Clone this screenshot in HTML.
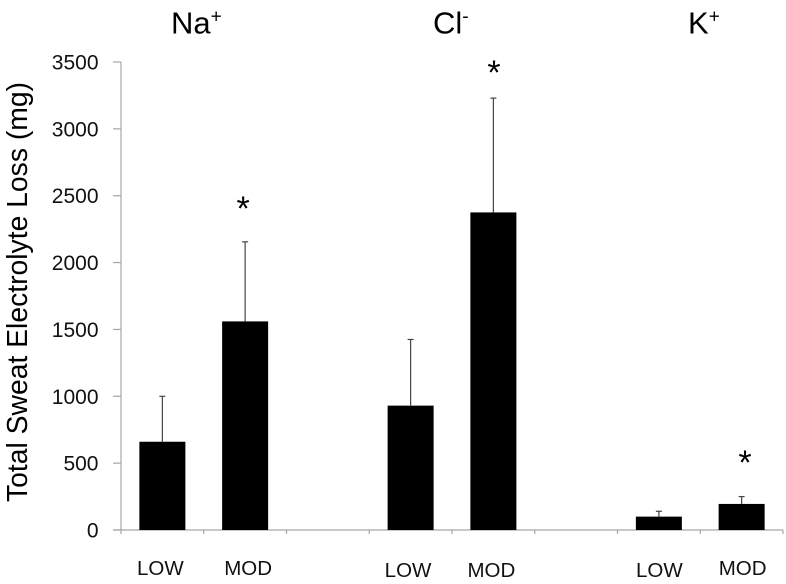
<!DOCTYPE html>
<html>
<head>
<meta charset="utf-8">
<style>
html,body{margin:0;padding:0;background:#fff;}
svg{display:block;font-family:"Liberation Sans",sans-serif;fill:#000;}
</style>
</head>
<body>
<svg id="chart" width="786" height="584" viewBox="0 0 786 584" xmlns="http://www.w3.org/2000/svg">
<text x="171" y="33.5" font-size="31">Na<tspan font-size="19" dy="-11">+</tspan></text>
<text x="433" y="33.5" font-size="31">Cl<tspan font-size="19" dy="-11">-</tspan></text>
<text x="688" y="33.5" font-size="31">K<tspan font-size="19" dy="-11">+</tspan></text>
<text transform="translate(27,292) rotate(-90)" text-anchor="middle" font-size="29" textLength="420" lengthAdjust="spacingAndGlyphs">Total Sweat Electrolyte Loss (mg)</text>
</svg>
<script>
var categories = ['LOW', 'MOD', '', 'LOW', 'MOD', '', 'LOW', 'MOD'];
var barValues = [660, 1560, null, 930, 2375, null, 100, 195];
var errorTops = [1000, 2155, null, 1425, 3230, null, 140, 250];
var asteriskValues = [null, 2438, null, null, 3455, null, null, 538];
var yTicks = [0, 500, 1000, 1500, 2000, 2500, 3000, 3500];

var svg = document.getElementById('chart');
var NS = 'http://www.w3.org/2000/svg';
var plotLeft = 121, plotRight = 783, plotTop = 62, plotBottom = 530, yMax = 3500;
var bandWidth = (plotRight - plotLeft) / categories.length;
var barWidth = 46;

function yScale(v) { return plotBottom - (v / yMax) * (plotBottom - plotTop); }
function xBand(i) { return plotLeft + bandWidth * i; }
function xCenter(i) { return xBand(i) + bandWidth / 2; }

function labelDx(i) { return {0: -2, 1: 3, 3: -2.6, 4: -2, 6: 0.5, 7: 1}[i] || 0; }
function labelY(i) { return (i === 0 || i === 1 || i === 7) ? 575 : 577; }
function asteriskDx(i) { return {1: -2, 4: 0.6, 7: 3.4}[i] || 0; }

function make(tag, attrs, parent) {
  var el = document.createElementNS(NS, tag);
  for (var k in attrs) el.setAttribute(k, attrs[k]);
  (parent || svg).appendChild(el);
  return el;
}

function axisLine(x1, y1, x2, y2) {
  return make('line', { x1: x1, y1: y1, x2: x2, y2: y2, stroke: '#a6a6a6', 'stroke-width': 1.2 });
}

var yAxisLine = axisLine(plotLeft, plotTop, plotLeft, plotBottom);



var xAxisLine = axisLine(plotLeft - 8, plotBottom, plotRight, plotBottom);



yTicks.forEach(function (t) {
  var y = yScale(t);
  var tick = axisLine(plotLeft - 8, y, plotLeft, y);
  
  
  var label = make('text', { x: 98.5, y: y + 7.5, 'text-anchor': 'end', 'font-size': 21, fill: '#111' });
  
  
  label.textContent = String(t);
});

for (var i = 0; i <= categories.length; i++) {
  var xTick = axisLine(xBand(i), plotBottom, xBand(i), plotBottom + 4);
  
  
}

categories.forEach(function (c, i) {
  if (!c) return;
  var cx = xCenter(i);
  var topY = yScale(barValues[i]);
  var errY = yScale(errorTops[i]);

  var err = make('line', { x1: cx, y1: errY, x2: cx, y2: topY, stroke: '#444', 'stroke-width': 1.2 });
  
  

  var cap = make('line', { x1: cx - 3, y1: errY, x2: cx + 3, y2: errY, stroke: '#444', 'stroke-width': 1.2 });
  
  

  var bar = make('rect', { x: cx - barWidth / 2, y: topY, width: barWidth, height: plotBottom - topY, fill: '#000' });
  
  

  var label = make('text', { x: cx + labelDx(i), y: labelY(i), 'text-anchor': 'middle', 'font-size': 20.5, fill: '#111' });
  
  
  label.textContent = c;

  if (asteriskValues[i] !== null) {
    var star = make('text', { x: cx + asteriskDx(i), y: yScale(asteriskValues[i]) + 16, 'text-anchor': 'middle', 'font-size': 34 });
    
    
    star.textContent = '*';
  }
});
</script>
</body>
</html>
